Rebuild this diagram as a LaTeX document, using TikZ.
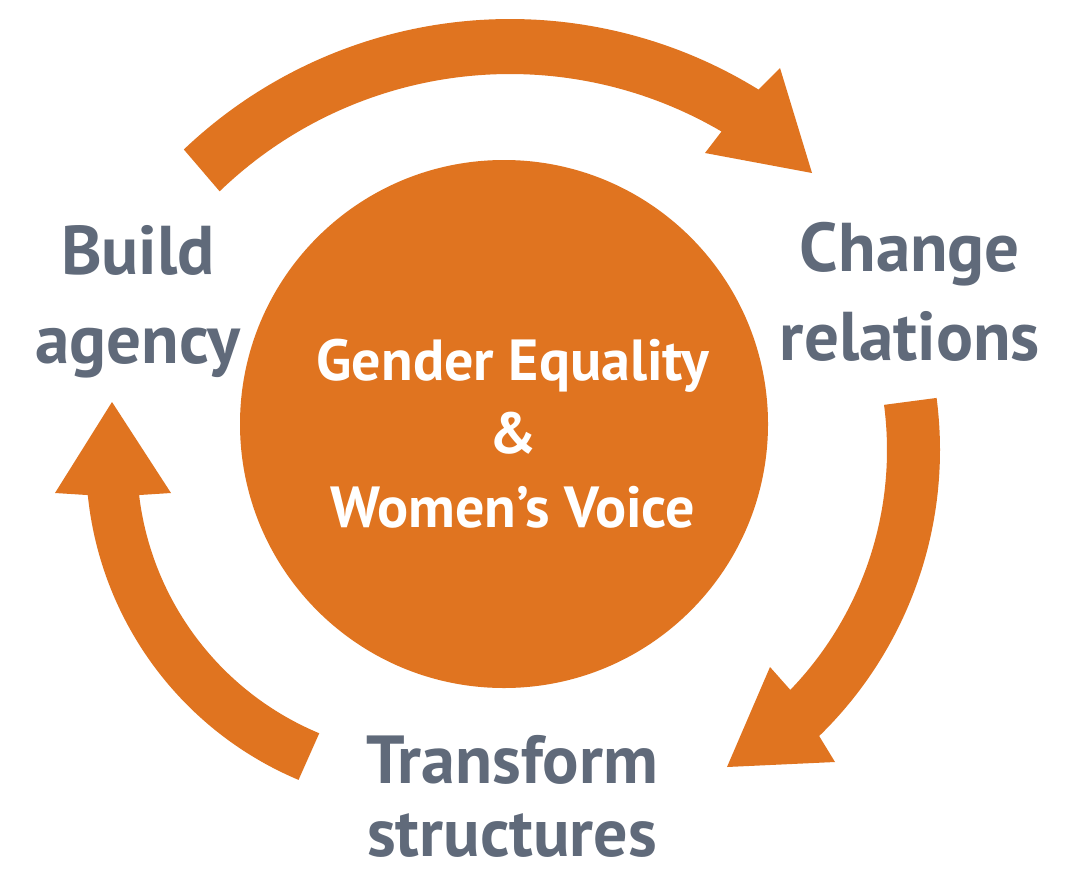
\documentclass[tikz,border=0pt]{standalone}
\usepackage{fontspec}
\setmainfont{PT Sans}
\definecolor{orng}{RGB}{224,116,32}
\definecolor{lbl}{RGB}{96,106,122}
\begin{document}
\begin{tikzpicture}[x=1pt,y=-1pt,
  arrowshape/.style={fill=orng, draw=none},
  outerlabel/.style={text=lbl, font=\fontsize{69}{89}\selectfont\bfseries, align=center, anchor=base, inner sep=0pt},
  hub/.style={circle, fill=orng, draw=none, minimum size=528pt, inner sep=0pt},
  hubtext/.style={text=white, font=\fontsize{58}{73.5}\selectfont\bfseries, align=center, anchor=base, inner sep=0pt}]
\useasboundingbox (0,0) rectangle (1075,875);
\fill[white] (0,0) rectangle (1075,875);

% central hub
\node[hub] (hub) at (504,424) {};

% top arrow (Build agency -> Change relations)
\fill[arrowshape]
  plot[domain=-133.6:-58.3, samples=80] ({510+473*cos(\x)},{492+473*sin(\x)})
  -- (780,68) -- (812,173) -- (705,153)
  -- plot[domain=-59.6:-134, samples=80] ({510+418*cos(\x)},{492+418*sin(\x)})
  -- cycle;

% right arrow (Change relations -> Transform structures)
\fill[arrowshape]
  plot[domain=-7.5:45.8, samples=80] ({541+399*cos(\x)},{450+399*sin(\x)})
  -- (835,762) -- (727,767) -- (770,667)
  -- plot[domain=43.9:-7.5, samples=80] ({541+346*cos(\x)},{450+346*sin(\x)})
  -- cycle;

% left arrow (Transform structures -> Build agency)
\fill[arrowshape]
  plot[domain=112.8:174.2, samples=80] ({433+347*cos(\x)},{460+347*sin(\x)})
  -- (55,493) -- (112,402) -- (171,493)
  -- plot[domain=173.2:112.6, samples=80] ({433+296*cos(\x)},{460+296*sin(\x)})
  -- cycle;

% labels (anchor=base is the baseline of the last line)
\node[hubtext] (core) at (513,527) {Gender Equality\\\&\\Women’s Voice};
\node[outerlabel] (build) at (138,363) {Build\\agency};
\node[outerlabel] (change) at (910,360) {Change\\relations};
\node[outerlabel, font=\fontsize{68}{73}\selectfont\bfseries, text depth=0pt] (transform) at (512,856) {Transform\\structures};
\end{tikzpicture}
\end{document}
